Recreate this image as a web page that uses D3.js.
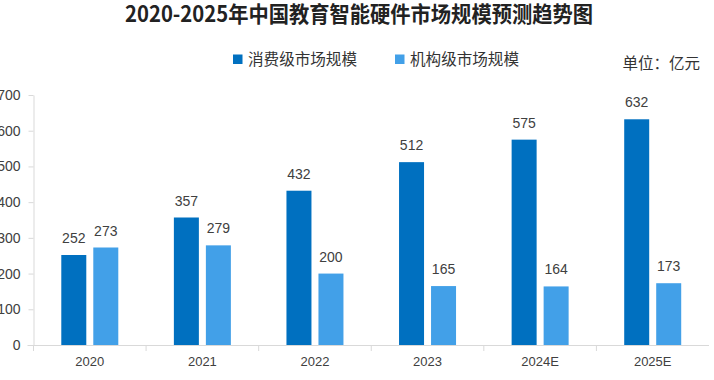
<!DOCTYPE html>
<html><head><meta charset="utf-8">
<script src="https://cdn.jsdelivr.net/npm/d3@7"></script>
<style>body{margin:0;background:#fff;}svg{display:block;}</style>
</head><body><svg id="c" width="714" height="380"></svg>
<script>
const categories = ["2020","2021","2022","2023","2024E","2025E"];
const seriesNames = ["消费级市场规模","机构级市场规模"];
const consumer = [252,357,432,512,575,632];
const institution = [273,279,200,165,164,173];
const yTicks = [0,100,200,300,400,500,600,700];
const colors = ["#0070C0","#42A0E8"];

const svg = d3.select("#c");
const font = "'Liberation Sans', Arial, 'Noto Sans CJK SC', sans-serif";
const cjk = "'Noto Sans CJK SC', sans-serif";
const x0 = 33.5, x1 = 709, yTop = 95, yBot = 345;

const x = d3.scaleBand().domain(categories).range([x0, x1]);
const y = d3.scaleLinear().domain([0,700]).range([yBot, yTop]);
const barW = 25, gap = 7;
const offs = [-(gap/2) - barW, gap/2];

// title
svg.append("text").attr("x", 125).attr("y", 22)
  .attr("textLength", 468).attr("lengthAdjust","spacingAndGlyphs")
  .attr("font-family", cjk).attr("font-weight","bold").attr("font-size", 22)
  .attr("fill","#222").text("2020-2025年中国教育智能硬件市场规模预测趋势图");

// legend
const lg = [{x:233},{x:395}];
seriesNames.forEach((n,i)=>{
  svg.append("rect").attr("x", lg[i].x).attr("y", 54.5).attr("width",9.5).attr("height",9.5).attr("fill",colors[i]);
  svg.append("text").attr("x", lg[i].x+15).attr("y", 65).attr("font-family", cjk)
    .attr("font-size",15.5).attr("fill","#333").attr("textLength",109).attr("lengthAdjust","spacingAndGlyphs").text(n);
});
svg.append("text").attr("x", 700).attr("y", 69).attr("text-anchor","end").attr("font-family", cjk)
  .attr("font-size",15.5).attr("fill","#333").text("单位：亿元");

// y axis
const ya = svg.append("g").attr("transform",`translate(${x0},0)`)
  .call(d3.axisLeft(y).tickValues(yTicks).tickSize(5).tickPadding(8).tickSizeOuter(0));
ya.select(".domain").attr("stroke","#d9d9d9");
ya.selectAll(".tick line").attr("stroke","#d9d9d9");
ya.selectAll(".tick text").attr("font-family",font).attr("font-size",14).attr("fill","#404040");

// x axis
const xa = svg.append("g").attr("transform",`translate(0,${yBot})`)
  .call(d3.axisBottom(x).tickSize(0).tickPadding(12));
xa.select(".domain").attr("stroke","#d9d9d9").attr("d", `M${x0-6},0.5H${x1}`);
xa.selectAll(".tick text").attr("font-family",font).attr("font-size",13).attr("fill","#404040");
svg.append("g").selectAll("line").data(categories).join("line")
  .attr("x1", d=>x(d)).attr("x2", d=>x(d)).attr("y1", yBot).attr("y2", yBot+6)
  .attr("stroke","#d9d9d9");

// bars
const series = [consumer, institution];
series.forEach((vals,i)=>{
  const g = svg.append("g");
  g.selectAll("rect").data(vals).join("rect")
    .attr("x",(d,j)=>x(categories[j]) + x.bandwidth()/2 + offs[i])
    .attr("y", d=>y(d)).attr("width", barW).attr("height", d=>y(0)-y(d))
    .attr("fill", colors[i]);
  g.selectAll("text").data(vals).join("text")
    .attr("x",(d,j)=>x(categories[j]) + x.bandwidth()/2 + offs[i] + barW/2)
    .attr("y", d=>y(d)-12).attr("text-anchor","middle")
    .attr("font-family",font).attr("font-size",14).attr("fill","#404040").text(d=>d);
});
</script></body></html>
